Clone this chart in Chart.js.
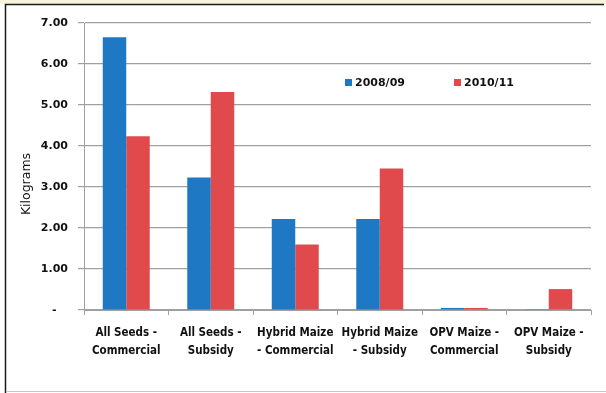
<!DOCTYPE html>
<html><head><meta charset="utf-8">
<script src="https://cdn.jsdelivr.net/npm/chart.js@4"></script>
<style>html,body{margin:0;padding:0;background:#fff}#wrap{width:606px;height:393px;position:relative}</style>
</head><body><div id="wrap"><canvas id="c" width="606" height="393"></canvas></div>
<script>
// Seed quantities per household, kg
const categories = [
  ["All Seeds -", "Commercial"],
  ["All Seeds -", "Subsidy"],
  ["Hybrid Maize", "- Commercial"],
  ["Hybrid Maize", "- Subsidy"],
  ["OPV Maize -", "Commercial"],
  ["OPV Maize -", "Subsidy"]
];
const seriesNames = ["2008/09", "2010/11"];
const values0809 = [6.65, 3.23, 2.22, 2.22, 0.05, 0.02];
const values1011 = [4.24, 5.32, 1.60, 3.45, 0.05, 0.51];
const yTickLabels = ["-   ", "1.00", "2.00", "3.00", "4.00", "5.00", "6.00", "7.00"];
const yAxisTitle = "Kilograms";

const BLUE = "#1f78c3";
const RED = "#e04a4c";
const GRID = "#a0a0a0";
const TEXT = "#111";
const FONT = "'DejaVu Sans', sans-serif";
const FONT_NARROW = "'DejaVu Sans Condensed', 'DejaVu Sans', sans-serif";

// page frame around the chart
const framePlugin = {
  id: "frame",
  beforeDraw(chart) {
    const ctx = chart.ctx;
    ctx.save();
    ctx.fillStyle = "#f7f4dc";
    ctx.fillRect(0, 0, 606, 4);
    ctx.strokeStyle = "#1a1a1a";
    ctx.lineWidth = 1.5;
    ctx.beginPath();
    ctx.moveTo(604, 4.5);
    ctx.lineTo(5.5, 4.5);
    ctx.lineTo(5.5, 393);
    ctx.stroke();
    ctx.strokeStyle = "#c8c8c8";
    ctx.lineWidth = 1;
    ctx.beginPath();
    ctx.moveTo(6, 391.5);
    ctx.lineTo(606, 391.5);
    ctx.stroke();
    ctx.restore();
  }
};

// legend inside the plot, plus the rotated axis title
const overlayPlugin = {
  id: "overlay",
  afterDraw(chart) {
    const ctx = chart.ctx;
    ctx.save();
    const items = [{x: 345, ds: chart.data.datasets[0]}, {x: 454, ds: chart.data.datasets[1]}];
    ctx.font = "bold 11px " + FONT;
    ctx.textBaseline = "middle";
    ctx.textAlign = "left";
    items.forEach(it => {
      ctx.fillStyle = it.ds.backgroundColor;
      ctx.fillRect(it.x, 79, 7, 7);
      ctx.fillStyle = TEXT;
      ctx.fillText(it.ds.label, it.x + 10, 83);
    });
    ctx.translate(27, 184);
    ctx.rotate(-Math.PI / 2);
    ctx.font = "12.5px " + FONT;
    ctx.textAlign = "center";
    ctx.fillStyle = TEXT;
    ctx.fillText(yAxisTitle, 0, 0);
    ctx.restore();
  }
};

new Chart(document.getElementById("c"), {
  type: "bar",
  data: {
    labels: categories,
    datasets: [
      {label: seriesNames[0], data: values0809, backgroundColor: BLUE},
      {label: seriesNames[1], data: values1011, backgroundColor: RED}
    ]
  },
  options: {
    responsive: false,
    devicePixelRatio: 1,
    animation: false,
    layout: {padding: {left: 0, top: 23, right: 15, bottom: 0}},
    datasets: {bar: {categoryPercentage: 0.556, barPercentage: 1.0, borderWidth: 0}},
    plugins: {legend: {display: false}, tooltip: {enabled: false}},
    scales: {
      x: {
        afterFit(scale) { scale.height = 83; },
        grid: {display: true, drawOnChartArea: false, offset: true, tickLength: 5, color: GRID},
        border: {color: GRID, width: 1},
        ticks: {
          color: TEXT, maxRotation: 0, autoSkip: false, padding: 9,
          font: {family: FONT_NARROW, size: 11.5, weight: "bold", lineHeight: 1.565}
        }
      },
      y: {
        min: 0, max: 7,
        afterFit(scale) { scale.width = 84; },
        grid: {color: GRID, lineWidth: 1.2, tickLength: 6},
        border: {color: GRID, width: 1},
        ticks: {
          stepSize: 1, color: TEXT, padding: 10,
          font: {family: FONT, size: 11, weight: "bold"},
          callback: (v, i) => yTickLabels[i]
        }
      }
    }
  },
  plugins: [framePlugin, overlayPlugin]
});
</script>
</body></html>
